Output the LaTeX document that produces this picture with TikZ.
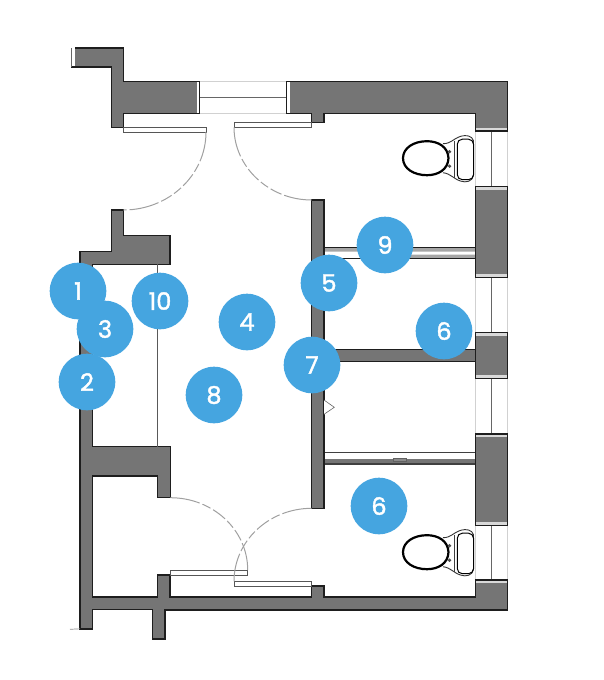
\documentclass[tikz,border=0pt]{standalone}
\usepackage{fontspec}
\setmainfont[FakeBold=1.6]{Poppins}
\definecolor{wallgray}{HTML}{757575}
\definecolor{wallline}{HTML}{1E1E1E}
\definecolor{markerblue}{HTML}{45A5E0}
\definecolor{swinggray}{HTML}{A0A0A0}
\tikzset{
  wall/.style={fill=wallgray, draw=wallline, line width=1.2pt, line join=miter},
  leaf/.style={fill=white, draw=wallline!75, line width=0.9pt},
  swing/.style={draw=swinggray, line width=1pt, dash pattern=on 30pt off 3pt on 9pt off 3pt on 15pt off 3pt on 9pt off 3pt on 12pt off 3pt},
  glass/.style={draw=black!18, line width=0.8pt},
  sash/.style={draw=black!60, line width=1.1pt},
  marker/.style={circle, fill=markerblue, text=white, minimum size=56.6pt, inner sep=0pt, font=\fontsize{24}{24}\selectfont}
}
\begin{document}
\begin{tikzpicture}[x=1pt, y=-1pt]
  \useasboundingbox (0,0) rectangle (604,680);
  % windows
  \draw[glass] (199,81.7) -- (287,81.7) (199,113.7) -- (287,113.7);
  \draw[sash] (199,97.5) -- (287,97.5);
  \foreach \ya/\yb in {131/186.7, 277.3/332.3, 378.3/434, 525.3/580}{
    \draw[glass] (475.7,\ya) -- (475.7,\yb) (507.7,\ya) -- (507.7,\yb);
    \draw[sash] (491.7,\ya) -- (491.7,\yb);
  }
  % stall partitions
  \fill[black!35] (324,248) rectangle (475.7,251.5) (385,254.5) rectangle (475.7,258.7);
  \draw[wallline, line width=1.1pt] (324,247.7) -- (475.7,247.7) (324,258.7) -- (475.7,258.7);
  \fill[wallgray] (324,458.5) rectangle (475.7,464);
  \draw[wallline!85, line width=1.1pt] (324,452.3) -- (475.7,452.3) (324,464) -- (475.7,464);
  \draw[wallline!70, line width=0.5pt, fill=black!45] (393,458) rectangle (406,461);
  \draw[wall] (324,349.3) rectangle (475.7,361.7);
  % walls
  \draw[wall] (75,48) -- (123.3,48) -- (123.3,81.7) -- (199.3,81.7) -- (199.3,113.7) -- (123.3,113.7)
    -- (123.3,127.7) -- (111.7,127.7) -- (111.7,67) -- (71,67);
  \fill[white] (71,47) rectangle (75,66.4);
  \draw[black!60, line width=0.8pt] (71,48) -- (71,67);
  \fill[white] (197,82.3) rectangle (198.7,113.1);
  \draw[wall] (286.7,81.7) -- (507.7,81.7) -- (507.7,131) -- (475.7,131) -- (475.7,113.3) -- (324,113.3)
    -- (324,122.3) -- (311.7,122.3) -- (311.7,113.7) -- (286.7,113.7) -- cycle;
  \fill[white] (287.3,82.3) rectangle (290,113.1);
  \draw[wall] (111.7,210) -- (123.3,210) -- (123.3,235.7) -- (170,235.7) -- (170,264.3) -- (92.3,264.3)
    -- (92.3,446.7) -- (170.3,446.7) -- (170.3,497.7) -- (157.7,497.7) -- (157.7,476) -- (92.3,476)
    -- (92.3,597) -- (157.7,597) -- (157.7,575) -- (170,575) -- (170,597) -- (311.7,597) -- (311.7,586)
    -- (324,586) -- (324,597) -- (475.7,597) -- (475.7,580) -- (507.7,580) -- (507.7,610) -- (165,610)
    -- (165,639) -- (152.7,639) -- (152.7,609.3) -- (92.3,609.3) -- (92.3,629) -- (80,629)
    -- (80,251.7) -- (111.7,251.7) -- cycle;
  \draw[wall] (311.7,200) rectangle (324,508.3);
  \draw[wall] (475.7,186.7) rectangle (507.7,277.3);
  \draw[wall] (475.7,332.3) rectangle (507.7,378.3);
  \draw[wall] (475.7,434) rectangle (507.7,525.3);
  % light bands at the column ends
  \foreach \ya/\yb in {128/130.4, 187.3/190, 274/276.7, 332.9/335.5, 375/377.7, 434.6/437, 522/524.7, 580.6/583}{
    \fill[black!15] (476.3,\ya) rectangle (507.1,\yb);
  }
  \draw[black!45, line width=0.7pt] (70,629.3) -- (80,628.8);
  \draw[black!65, line width=0.7pt] (157.3,264.3) -- (157.3,446.7);
  \draw[black!60, line width=0.6pt, fill=white] (324,400) -- (334.3,407.3) -- (324,414.3);
  % doors
  \draw[leaf] (123.3,127.3) rectangle (206,132);
  \draw[leaf] (234,122.3) rectangle (311.7,127.3);
  \draw[leaf] (170,570) rectangle (247.7,575.3);
  \draw[leaf] (234,581.3) rectangle (311.7,586);
  \draw[swing] (206,132) .. controls (206,175) and (169,210) .. (123.3,210);
  \draw[swing] (234,127.3) .. controls (234,167) and (269,200) .. (311.7,200);
  \draw[swing] (170.3,497.7) .. controls (213,497.7) and (247.7,530) .. (247.7,570);
  \draw[swing] (311.7,508.3) .. controls (269,508.3) and (234,541) .. (234,581.3);
  % toilets
  \foreach \ty in {158.7,552.7}{
    \begin{scope}[shift={(0,\ty)}]
      \draw[black, line width=2.2pt] (403,-0.5) .. controls (403,-11) and (414,-17.5) .. (427,-17.5)
        .. controls (438,-17.5) and (448,-12) .. (448.5,-0.5) .. controls (448,11) and (438,16.5) .. (427,16.5)
        .. controls (414,16.5) and (403,10) .. (403,-0.5) -- cycle;
      \draw[black!80, line width=0.9pt] (443,-15) .. controls (451,-15) and (453,-20) .. (461,-22.5)
        .. controls (466,-24) and (472,-23) .. (473.5,-18) -- (473.5,17) .. controls (472,23) and (466,24) .. (461,22.5)
        .. controls (453,20) and (451,15) .. (443,14);
      \draw[black, line width=1pt, rounded corners=5pt] (457.3,-19.5) rectangle (473.5,21);
      \draw[black!75, line width=0.6pt] (454.6,-18) -- (454.6,19);
      \fill[black!70] (449.5,-7) circle (1.8pt) (449.5,7.5) circle (1.8pt);
    \end{scope}
  }
  % markers
  \foreach \name/\px/\py/\txt in {mone/78/291/1, mthree/105/329/3, mtwo/87/382/2, mten/160/301/10, mfour/247/322/4, mfive/329/283/5, mnine/385/245/9, msix/444/331/6, mseven/312/365/7, meight/214/395/8, msixb/379/506/6}{
    \node[marker] (\name) at (\px,\py) {\txt};
  }
\end{tikzpicture}
\end{document}
